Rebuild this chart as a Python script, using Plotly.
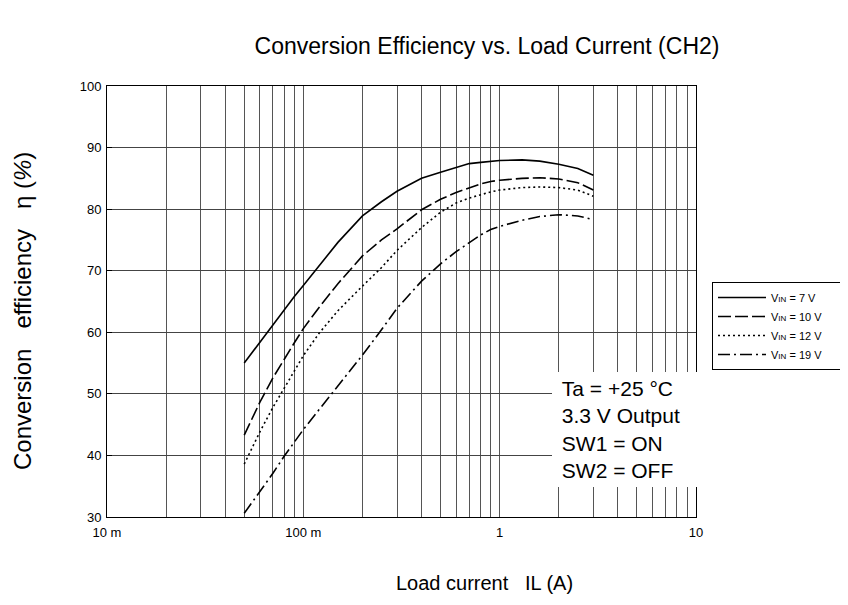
import plotly.graph_objects as go

# ---- data ----
load_current_A = [0.05, 0.06, 0.07, 0.08, 0.09, 0.1, 0.12, 0.15, 0.2, 0.25, 0.3,
                  0.4, 0.5, 0.6, 0.7, 0.8, 0.9, 1.0, 1.3, 1.6, 2.0, 2.5, 3.0]
eff_vin_7 = [55.0, 58.4, 61.3, 63.8, 65.8, 67.6, 70.7, 74.6, 78.9, 81.2, 82.9,
             85.0, 86.0, 86.8, 87.4, 87.6, 87.8, 87.9, 88.0, 87.8, 87.3, 86.6, 85.5]
eff_vin_10 = [43.3, 48.6, 52.6, 55.7, 58.3, 60.6, 64.0, 67.9, 72.4, 75.0, 76.8,
              79.9, 81.6, 82.7, 83.5, 84.1, 84.5, 84.7, 85.0, 85.1, 84.9, 84.3, 83.1]
eff_vin_12 = [38.6, 43.8, 47.8, 51.0, 53.7, 56.2, 59.8, 63.5, 67.5, 70.5, 73.3,
              77.0, 79.5, 81.0, 81.8, 82.4, 82.8, 83.1, 83.5, 83.6, 83.5, 83.1, 82.1]
eff_vin_19 = [30.6, 34.1, 37.1, 39.9, 42.2, 44.2, 47.4, 51.3, 56.3, 60.4, 63.9,
              68.3, 71.1, 73.1, 74.6, 75.8, 76.7, 77.2, 78.2, 78.8, 79.1, 78.9, 78.3]

# trailing no-break spaces (closed by a zero-width space) widen the legend box
PAD = "\u00a0" * 6 + "\u200b"
series_names = ["V<span style='font-size:8px'>IN</span> = 7 V" + PAD,
                "V<span style='font-size:8px'>IN</span> = 10 V" + PAD,
                "V<span style='font-size:8px'>IN</span> = 12 V" + PAD,
                "V<span style='font-size:8px'>IN</span> = 19 V" + PAD]
series_values = [eff_vin_7, eff_vin_10, eff_vin_12, eff_vin_19]
series_dash = ["solid", "13px,4px", "2px,3px", "12px,4px,2px,4px"]

x_grid_vals = [m * 10 ** e for e in (-2, -1, 0) for m in range(1, 10)] + [10]
x_tick_text = {0.01: "10 m", 0.1: "100 m", 1: "1", 10: "10"}

FONT = "Liberation Sans, Arial, sans-serif"

fig = go.Figure()
for name, vals, dash in zip(series_names, series_values, series_dash):
    fig.add_trace(go.Scatter(x=load_current_A, y=vals, mode="lines", name=name,
                             line=dict(color="black", width=1.6, dash=dash)))

# page body has an 8px margin: figure is placed at (8, 8) on screen
OFF = 8
W, H = 840, 597
L, T = 107 - OFF, 86 - OFF
PW, PH = 696 - 107, 517 - 86
R, B = W - L - PW, H - T - PH


def px_x(sx):
    return (sx - OFF - L) / PW


def px_y(sy):
    return (T + PH - (sy - OFF)) / PH


fig.update_layout(
    width=W, height=H,
    margin=dict(l=L, r=R, t=T, b=B, autoexpand=False),
    paper_bgcolor="white", plot_bgcolor="white",
    font=dict(family=FONT, color="black"),
    title=dict(text="Conversion Efficiency vs. Load Current (CH2)",
               x=(487 - OFF) / W, xanchor="center",
               y=1 - (46 - OFF) / H, yanchor="middle",
               font=dict(size=23, family=FONT, color="black")),
    showlegend=True,
    legend=dict(x=px_x(712), xanchor="left", y=px_y(282), yanchor="top",
                bordercolor="black", borderwidth=1, bgcolor="white",
                font=dict(size=11, family=FONT), itemwidth=48,
                tracegroupgap=0),
    hovermode=False,
)

fig.update_xaxes(
    type="log", range=[-2, 1], automargin=False,
    tickmode="array", tickvals=x_grid_vals,
    ticktext=[x_tick_text.get(v, "") for v in x_grid_vals],
    showgrid=True, gridcolor="#555555", gridwidth=1,
    showline=True, linecolor="black", linewidth=1, mirror=True,
    ticks="", ticklabelstandoff=3,
    tickfont=dict(size=13, family=FONT), zeroline=False,
)
fig.update_yaxes(
    range=[30, 100], tickmode="linear", tick0=0, dtick=10, automargin=False,
    showgrid=True, gridcolor="#444444", gridwidth=1,
    showline=True, linecolor="black", linewidth=1, mirror=True,
    ticks="inside", ticklen=5, tickcolor="black", tickwidth=1,
    ticklabelstandoff=2,
    tickfont=dict(size=13, family=FONT), zeroline=False,
)
# ruler-style 1 % ticks on the left axis
fig.update_layout(yaxis2=dict(
    overlaying="y", side="left", anchor="x", range=[30, 100],
    tickmode="linear", tick0=0, dtick=1, ticks="inside", ticklen=5,
    tickcolor="black", tickwidth=1, showticklabels=False, showgrid=False,
    zeroline=False, showline=False, automargin=False,
))

# axis titles
fig.add_annotation(text="Conversion   efficiency   η (<i>%</i>)", textangle=-90,
                   xref="paper", yref="paper", x=px_x(22), y=px_y(311),
                   xanchor="center", yanchor="middle",
                   showarrow=False, font=dict(size=24, family=FONT))
fig.add_annotation(text="Load current   IL (A)",
                   xref="paper", yref="paper", x=px_x(484), y=px_y(583),
                   xanchor="center", yanchor="middle",
                   showarrow=False, font=dict(size=20, family=FONT))

# condition box
fig.add_annotation(text="\u00a0Ta = +25 °C<br>\u00a03.3 V Output<br>\u00a0SW1 = ON<br>\u00a0SW2 = OFF",
                   xref="paper", yref="paper", x=px_x(552), y=px_y(372),
                   xanchor="left", yanchor="top", align="left", valign="middle",
                   width=137, height=107, borderpad=4, borderwidth=0,
                   bgcolor="white", showarrow=False,
                   font=dict(size=21, family=FONT))

fig.write_html("out.html", config={"displayModeBar": False})
